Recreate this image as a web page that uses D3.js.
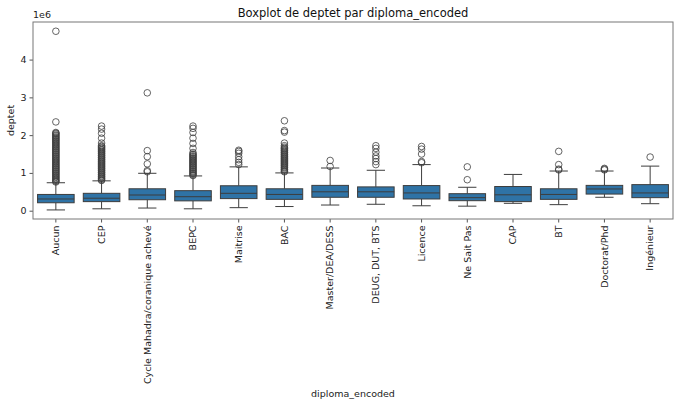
<!DOCTYPE html>
<html>
<head>
<meta charset="utf-8">
<script src="https://cdn.jsdelivr.net/npm/d3@7"></script>
<style>
    body { margin: 0; background: #fff; }
    svg { display: block; font-family: "DejaVu Sans", sans-serif; }
</style>
</head>
<body>
<div id="chart"></div>
<script>
// values in millions (axis shows 1e6 offset)
const categories = ['Aucun', 'CEP', 'Cycle Mahadra/coranique achevé', 'BEPC', 'Maitrise', 'BAC',
    'Master/DEA/DESS', 'DEUG, DUT, BTS', 'Licence', 'Ne Sait Pas', 'CAP', 'BT', 'Doctorat/Phd', 'Ingénieur'];

const q1Values     = [0.21, 0.24, 0.29, 0.26, 0.32, 0.30, 0.355, 0.355, 0.31, 0.265, 0.24, 0.30, 0.44, 0.345];
const medianValues = [0.31, 0.33, 0.415, 0.37, 0.46, 0.43, 0.50, 0.50, 0.47, 0.345, 0.42, 0.43, 0.575, 0.47];
const q3Values     = [0.43, 0.46, 0.58, 0.53, 0.66, 0.58, 0.67, 0.63, 0.665, 0.45, 0.64, 0.58, 0.67, 0.69];
const whiskerLow   = [0.02, 0.05, 0.07, 0.05, 0.08, 0.11, 0.15, 0.17, 0.13, 0.12, 0.195, 0.16, 0.355, 0.185];
const whiskerHigh  = [0.74, 0.79, 0.99, 0.92, 1.16, 1.00, 1.13, 1.07, 1.22, 0.62, 0.96, 1.05, 1.05, 1.18];

const outliers = [
    [0.76, 0.78, 0.80, 0.83, 0.85, 0.88, 0.90, 0.93, 0.95, 0.98, 1.00, 1.03, 1.05, 1.08, 1.10, 1.13, 1.15,
     1.18, 1.20, 1.23, 1.25, 1.28, 1.30, 1.33, 1.35, 1.38, 1.40, 1.43, 1.45, 1.48, 1.50, 1.53, 1.55, 1.58,
     1.60, 1.63, 1.65, 1.68, 1.70, 1.73, 1.75, 1.78, 1.80, 1.83, 1.85, 1.88, 1.90, 1.93, 1.95, 1.98, 2.00,
     2.03, 2.05, 2.07, 2.35, 4.75],
    [0.80, 0.82, 0.85, 0.87, 0.90, 0.92, 0.95, 0.97, 1.00, 1.02, 1.05, 1.07, 1.10, 1.12, 1.15, 1.17, 1.20,
     1.22, 1.25, 1.27, 1.30, 1.32, 1.35, 1.37, 1.40, 1.42, 1.45, 1.47, 1.50, 1.52, 1.55, 1.57, 1.60, 1.62,
     1.65, 1.67, 1.70, 1.72, 1.79, 1.92, 2.05, 2.16, 2.24],
    [1.03, 1.06, 1.24, 1.43, 1.59, 3.12],
    [0.93, 0.95, 0.98, 1.00, 1.03, 1.05, 1.08, 1.10, 1.13, 1.15, 1.18, 1.20, 1.23, 1.25, 1.28, 1.30, 1.33,
     1.35, 1.38, 1.40, 1.43, 1.45, 1.48, 1.50, 1.54, 1.65, 1.78, 1.92, 2.07, 2.18, 2.24],
    [1.22, 1.28, 1.35, 1.43, 1.52, 1.57, 1.60],
    [1.03, 1.05, 1.08, 1.10, 1.13, 1.15, 1.18, 1.20, 1.23, 1.25, 1.28, 1.30, 1.33, 1.35, 1.38, 1.40, 1.43,
     1.45, 1.48, 1.50, 1.53, 1.55, 1.58, 1.60, 1.63, 1.65, 1.68, 1.72, 1.79, 2.08, 2.12, 2.38],
    [1.17, 1.33],
    [1.22, 1.30, 1.38, 1.45, 1.55, 1.65, 1.72],
    [1.27, 1.30, 1.50, 1.63, 1.70],
    [0.82, 1.16],
    [],
    [1.08, 1.10, 1.22, 1.57],
    [1.08, 1.10, 1.12],
    [1.42]
];

const yTicks = [0, 1, 2, 3, 4];

const width = 680, height = 406;
const margin = { top: 22, right: 7, bottom: 187, left: 33 };
const lineColor = '#3d3d3d';
const boxColor = '#2f73a6';

const svg = d3.select('#chart').append('svg')
    .attr('width', width)
    .attr('height', height);

const x = d3.scaleBand()
    .domain(categories)
    .range([margin.left, width - margin.right])
    .paddingInner(0)
    .paddingOuter(0);

const y = d3.scaleLinear()
    .domain([-0.22, 4.995])
    .range([height - margin.bottom, margin.top]);

const boxW = x.bandwidth() * 0.8;
const capW = boxW * 0.5;

const data = categories.map((name, i) => ({
    name,
    q1: q1Values[i],
    med: medianValues[i],
    q3: q3Values[i],
    lo: whiskerLow[i],
    hi: whiskerHigh[i],
    out: outliers[i]
}));

const groups = svg.append('g').selectAll('g')
    .data(data)
    .enter()
    .append('g')
    .attr('transform', d => `translate(${x(d.name) + x.bandwidth() / 2},0)`);

// whiskers
groups.append('line')
    .attr('y1', d => y(d.q3)).attr('y2', d => y(d.hi))
    .attr('stroke', lineColor);
groups.append('line')
    .attr('y1', d => y(d.q1)).attr('y2', d => y(d.lo))
    .attr('stroke', lineColor);
groups.append('line')
    .attr('x1', -capW / 2).attr('x2', capW / 2)
    .attr('y1', d => y(d.hi)).attr('y2', d => y(d.hi))
    .attr('stroke', lineColor);
groups.append('line')
    .attr('x1', -capW / 2).attr('x2', capW / 2)
    .attr('y1', d => y(d.lo)).attr('y2', d => y(d.lo))
    .attr('stroke', lineColor);

// boxes
groups.append('rect')
    .attr('x', -boxW / 2)
    .attr('width', boxW)
    .attr('y', d => y(d.q3))
    .attr('height', d => y(d.q1) - y(d.q3))
    .attr('fill', boxColor)
    .attr('stroke', lineColor)
    .attr('stroke-width', 1);

groups.append('line')
    .attr('x1', -boxW / 2).attr('x2', boxW / 2)
    .attr('y1', d => y(d.med)).attr('y2', d => y(d.med))
    .attr('stroke', lineColor)
    .attr('stroke-width', 1);

// fliers
groups.selectAll('circle')
    .data(d => d.out)
    .enter()
    .append('circle')
    .attr('cx', 0)
    .attr('cy', v => y(v))
    .attr('r', 3.3)
    .attr('fill', 'none')
    .attr('stroke', lineColor)
    .attr('stroke-width', 0.8);

// axes
const xAxis = svg.append('g')
    .attr('transform', `translate(0,${height - margin.bottom})`)
    .call(d3.axisBottom(x).tickSize(3.5).tickPadding(3));
xAxis.selectAll('text')
    .attr('transform', 'rotate(-90)')
    .attr('text-anchor', 'end')
    .attr('x', -6.5)
    .attr('y', 0)
    .attr('dy', '0.35em');

const yAxis = svg.append('g')
    .attr('transform', `translate(${margin.left},0)`)
    .call(d3.axisLeft(y).tickValues(yTicks).tickFormat(d3.format('d')).tickSize(3.5).tickPadding(3));

[xAxis, yAxis].forEach(ax => {
    ax.select('.domain').remove();
    ax.selectAll('line').attr('stroke', '#555');
    ax.selectAll('text').attr('font-size', '9.5px').attr('fill', '#222')
        .attr('font-family', '"DejaVu Sans", sans-serif');
});

// frame
svg.append('rect')
    .attr('x', margin.left)
    .attr('y', margin.top)
    .attr('width', width - margin.left - margin.right)
    .attr('height', height - margin.top - margin.bottom)
    .attr('fill', 'none')
    .attr('stroke', '#777')
    .attr('stroke-width', 1);

svg.append('text')
    .attr('x', margin.left)
    .attr('y', 18)
    .attr('font-size', '9.5px')
    .attr('fill', '#222')
    .text('1e6');

svg.append('text')
    .attr('x', (margin.left + width - margin.right) / 2)
    .attr('y', 17)
    .attr('text-anchor', 'middle')
    .attr('font-size', '11.5px')
    .attr('fill', '#111')
    .text('Boxplot de deptet par diploma_encoded');

svg.append('text')
    .attr('x', (margin.left + width - margin.right) / 2)
    .attr('y', 397)
    .attr('text-anchor', 'middle')
    .attr('font-size', '9.5px')
    .attr('fill', '#222')
    .text('diploma_encoded');

svg.append('text')
    .attr('transform', `translate(14,${(margin.top + height - margin.bottom) / 2}) rotate(-90)`)
    .attr('text-anchor', 'middle')
    .attr('font-size', '9.5px')
    .attr('fill', '#222')
    .text('deptet');
</script>
</body>
</html>
